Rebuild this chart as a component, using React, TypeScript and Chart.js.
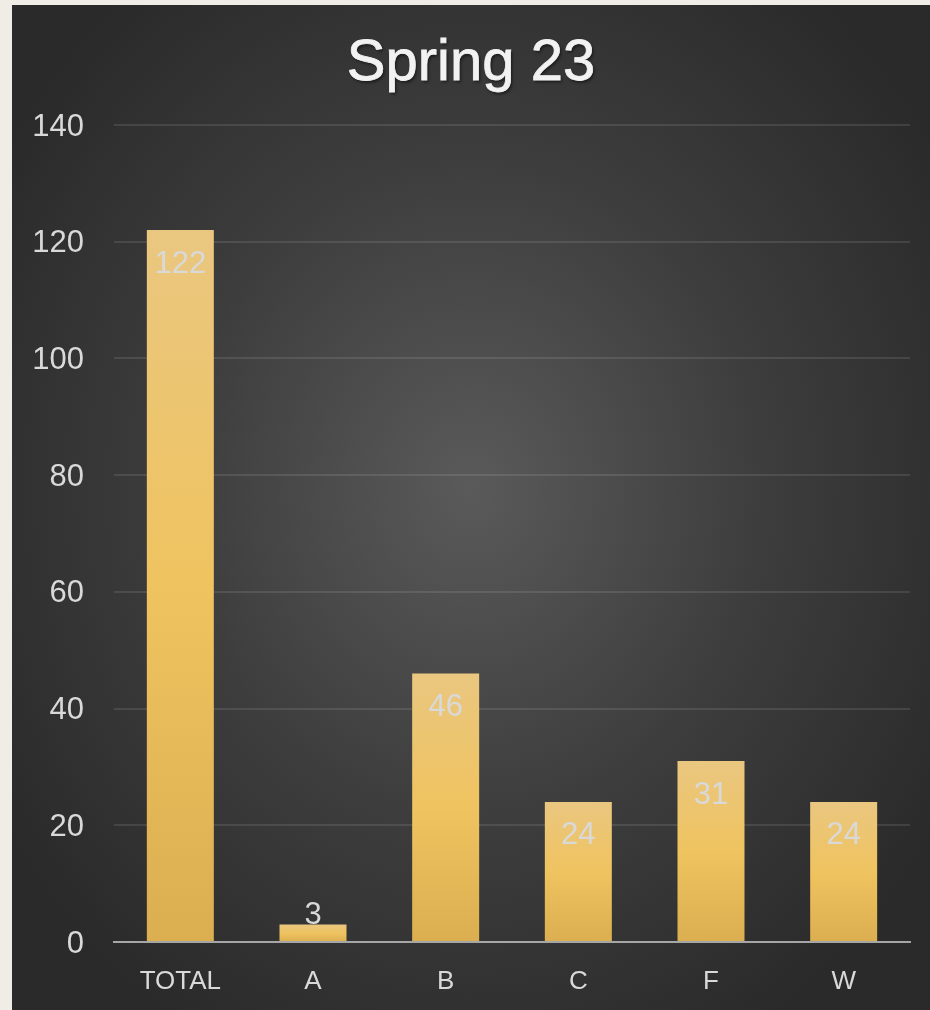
import React, { useEffect, useRef } from "react";
import { Chart, registerables } from "chart.js";

Chart.register(...registerables);

const categories = ["TOTAL", "A", "B", "C", "F", "W"];
const counts = [122, 3, 46, 24, 31, 24];
const yTicks = [0, 20, 40, 60, 80, 100, 120, 140];
const titleText = "Spring 23";

const FONT = "'Liberation Sans', Arial, sans-serif";

const titlePlugin = {
  id: "customTitle",
  afterDraw(chart: any) {
    const ctx = chart.ctx;
    ctx.save();
    ctx.font = `58px ${FONT}`;
    ctx.fillStyle = "#f2f2f2";
    ctx.strokeStyle = "#f2f2f2";
    ctx.lineWidth = 0.8;
    ctx.textAlign = "center";
    ctx.textBaseline = "alphabetic";
    ctx.shadowColor = "rgba(0,0,0,0.55)";
    ctx.shadowBlur = 3;
    ctx.shadowOffsetX = 1.5;
    ctx.shadowOffsetY = 1.5;
    ctx.fillText(titleText, chart.width / 2, 75);
    ctx.shadowColor = "transparent";
    ctx.strokeText(titleText, chart.width / 2, 75);
    ctx.restore();
  },
};

const labelPlugin = {
  id: "barLabels",
  afterDatasetsDraw(chart: any) {
    const ctx = chart.ctx;
    const meta = chart.getDatasetMeta(0);
    ctx.save();
    ctx.font = `31px ${FONT}`;
    ctx.fillStyle = "#d9d9d9";
    ctx.textAlign = "center";
    ctx.textBaseline = "alphabetic";
    meta.data.forEach((el: any, i: number) => {
      const h = el.base - el.y;
      const y = h < 40 ? el.y : el.y + 42.5;
      ctx.fillText(String(counts[i]), el.x, y);
    });
    ctx.restore();
  },
};

export default function App() {
  const ref = useRef<HTMLCanvasElement>(null);
  useEffect(() => {
    document.body.style.margin = "0";
    document.body.style.background = "#f0ede6";
    const chart = new Chart(ref.current as HTMLCanvasElement, {
      type: "bar",
      data: {
        labels: categories,
        datasets: [
          {
            data: counts,
            backgroundColor: (c: any) => {
              const ch = c.chart;
              const ys = ch.scales.y;
              if (!ys || c.dataIndex === undefined) return "#edc35f";
              const top = ys.getPixelForValue(counts[c.dataIndex]);
              const base = ys.getPixelForValue(0);
              if (!isFinite(top) || !isFinite(base) || base - top < 1) return "#edc35f";
              const g = ch.ctx.createLinearGradient(0, top, 0, base);
              g.addColorStop(0, "#eac780");
              g.addColorStop(0.5, "#efc35f");
              g.addColorStop(1, "#dbaf50");
              return g;
            },
            borderWidth: 0,
            categoryPercentage: 1,
            barPercentage: 0.505,
          },
        ],
      },
      options: {
        animation: false,
        responsive: false,
        maintainAspectRatio: false,
        layout: { padding: { top: 120, left: 0, right: 20, bottom: 0 } },
        plugins: {
          legend: { display: false },
          title: { display: false },
          tooltip: { enabled: false },
        },
        scales: {
          x: {
            grid: { display: false, drawTicks: false },
            border: { display: true, color: "#a6a6a6", width: 2 },
            ticks: {
              color: "#d9d9d9",
              font: { family: FONT, size: 26 },
              padding: 24,
              maxRotation: 0,
            },
            afterFit(s: any) {
              s.height = 68;
            },
          },
          y: {
            min: 0,
            max: 140,
            afterBuildTicks(s: any) {
              s.ticks = yTicks.map((v) => ({ value: v }));
            },
            grid: { color: "rgba(255,255,255,0.1)", lineWidth: 2, drawTicks: false },
            border: { display: false },
            ticks: {
              color: "#d9d9d9",
              font: { family: FONT, size: 31 },
              padding: 30,
              labelOffset: 2,
            },
            afterFit(s: any) {
              s.width = 102;
            },
          },
        },
      },
      plugins: [titlePlugin, labelPlugin],
    } as any);
    return () => chart.destroy();
  }, []);
  return (
    <div
      style={{
        position: "absolute",
        left: 12,
        top: 5,
        width: 918,
        height: 1005,
        background:
          "radial-gradient(ellipse farthest-corner at 50% 48%, #5a5a5a 0%, #3d3d3d 45%, #2a2a2a 85%)",
      }}
    >
      <canvas ref={ref} width={918} height={1005} style={{ display: "block" }} />
    </div>
  );
}
